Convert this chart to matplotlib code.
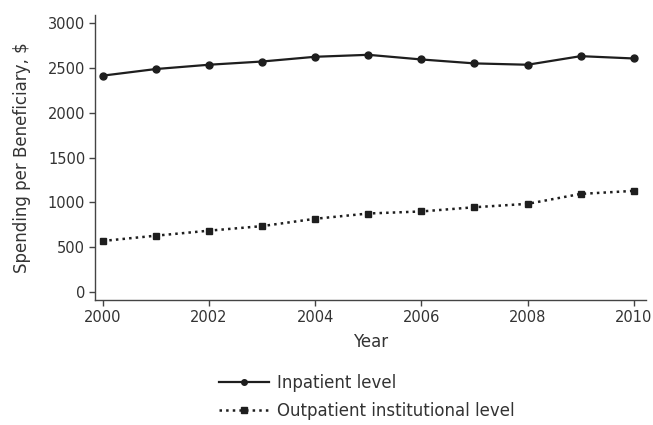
import numpy as np
import matplotlib.pyplot as plt

plt.rcParams['font.family'] = ['DejaVu Sans']

years = [2000, 2001, 2002, 2003, 2004, 2005, 2006, 2007, 2008, 2009, 2010]
inpatient = [2415, 2489, 2537, 2573, 2626, 2648, 2596, 2552, 2537, 2633, 2607]
outpatient = [567, 626, 682, 733, 815, 874, 897, 944, 982, 1093, 1127]

txt = '#333333'
ink = '#1e1e1e'

fig = plt.figure(figsize=(6.53, 4.25), dpi=100)
ax = fig.add_axes([0.1455, 0.2941, 0.8438, 0.6706])

ax.plot(years, inpatient, '-', color=ink, lw=1.6, marker='o', ms=5,
        label='Inpatient level')
ax.plot(years, outpatient, ':', color=ink, lw=1.8, marker='s', ms=5,
        label='Outpatient institutional level')

ax.set_xlim(1999.855, 2010.23)
ax.set_ylim(-93, 3093)
ax.set_xticks([2000, 2002, 2004, 2006, 2008, 2010])
ax.set_yticks([0, 500, 1000, 1500, 2000, 2500, 3000])

for s in ['top', 'right']:
    ax.spines[s].set_visible(False)
for s in ['left', 'bottom']:
    ax.spines[s].set_color('#444444')
    ax.spines[s].set_linewidth(1.0)

ax.tick_params(labelsize=10.5, colors=txt, length=4, width=1.0, pad=3)
ax.tick_params(color='#444444')
ax.set_xlabel('Year', fontsize=12, color=txt, labelpad=6)
ax.set_ylabel('Spending per Beneficiary, $', fontsize=12, color=txt, labelpad=12)

fig.legend(loc='upper left', bbox_to_anchor=(0.322, 0.139), frameon=False,
           fontsize=12, labelcolor=txt, numpoints=1, handlelength=3.0,
           handletextpad=0.5, labelspacing=0.6, borderpad=0, markerscale=0.8)

fig.savefig('out.png', dpi=100)
